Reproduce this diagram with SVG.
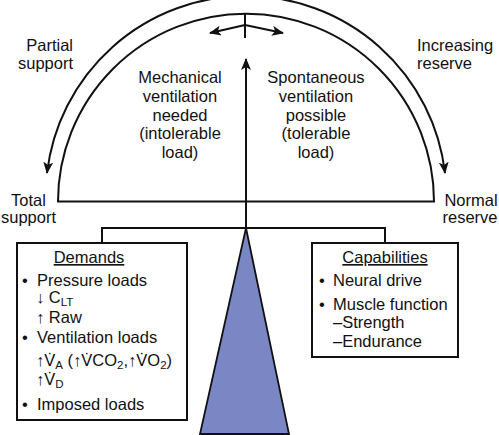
<svg xmlns="http://www.w3.org/2000/svg" width="499" height="435" viewBox="0 0 499 435">
<defs>
<style>
text{font-family:"Liberation Sans",Arial,sans-serif;font-size:16.5px;fill:#111}
.c{text-anchor:middle}
.ln{fill:none;stroke:#111;stroke-width:2}
.u{text-decoration:underline}
.s{font-size:11.5px}
</style>
<marker id="ah" viewBox="0 0 12 10" refX="11" refY="5" markerWidth="12" markerHeight="10" markerUnits="userSpaceOnUse" orient="auto">
<path d="M0,0 L12,5 L0,10 L3,5 Z" fill="#111"/>
</marker>
</defs>
<rect width="499" height="435" fill="#fff"/>
<g id="dome">
<path class="ln" d="M58,201.6 A188,188 0 0 1 434,201.6 Z"/>
</g>
<g id="fulcrum">
<path d="M246,228 L289,434 L200,434 Z" fill="#7b86c4" stroke="#111" stroke-width="1.8"/>
</g>
<g id="connectors">
<path class="ln" d="M246,-4 A200.3,200.3 0 0 0 47,173" marker-end="url(#ah)"/>
<path class="ln" d="M246,-4 A200.3,200.3 0 0 1 445,173" marker-end="url(#ah)"/>
<line class="ln" x1="246" y1="228" x2="246" y2="59" marker-end="url(#ah)"/>
<line class="ln" x1="245" y1="13" x2="245" y2="38"/>
<line class="ln" x1="245" y1="25" x2="210" y2="33" marker-end="url(#ah)"/>
<line class="ln" x1="245" y1="25" x2="283" y2="33" marker-end="url(#ah)"/>
<polyline class="ln" points="102,243 102,228 385,228 385,243"/>
</g>
<g id="labels">
<text x="73" y="51" text-anchor="end">Partial</text>
<text x="73" y="69" text-anchor="end">support</text>
<text x="417" y="51">Increasing</text>
<text x="417" y="69">reserve</text>
<text class="c" x="28.5" y="206">Total</text>
<text class="c" x="28.5" y="223">support</text>
<text class="c" x="471" y="206">Normal</text>
<text class="c" x="470" y="223">reserve</text>
<text class="c" x="180" y="83">Mechanical</text>
<text class="c" x="180" y="102">ventilation</text>
<text class="c" x="180" y="121">needed</text>
<text class="c" x="180" y="139">(intolerable</text>
<text class="c" x="180" y="158">load)</text>
<text class="c" x="316" y="83">Spontaneous</text>
<text class="c" x="316" y="102">ventilation</text>
<text class="c" x="316" y="121">possible</text>
<text class="c" x="316" y="139">(tolerable</text>
<text class="c" x="316" y="158">load)</text>
</g>
<g id="demands">
<rect x="17" y="243" width="170" height="177" fill="#fff" stroke="#111" stroke-width="2"/>
<text class="c u" x="89" y="263">Demands</text>
<text x="22" y="286">•</text><text x="37" y="286">Pressure loads</text>
<text x="36" y="303">↓ C<tspan class="s" dy="2.5">LT</tspan></text>
<text x="36" y="323">↑ Raw</text>
<text x="22" y="343">•</text><text x="37" y="343">Ventilation loads</text>
<text x="36" y="366">↑V̇<tspan class="s" dy="3">A</tspan><tspan dy="-3"> (↑V̇CO</tspan><tspan class="s" dy="3">2</tspan><tspan dy="-3">,↑V̇O</tspan><tspan class="s" dy="3">2</tspan><tspan dy="-3">)</tspan></text>
<text x="36" y="385">↑V̇<tspan class="s" dy="3">D</tspan></text>
<text x="22" y="410">•</text><text x="37" y="410">Imposed loads</text>
</g>
<g id="capabilities">
<rect x="312" y="243" width="146" height="114" fill="#fff" stroke="#111" stroke-width="2"/>
<text class="c u" x="385" y="263">Capabilities</text>
<text x="319" y="286">•</text><text x="333" y="286">Neural drive</text>
<text x="319" y="310">•</text><text x="333" y="310">Muscle function</text>
<text x="333" y="328">–Strength</text>
<text x="333" y="347">–Endurance</text>
</g>
</svg>
